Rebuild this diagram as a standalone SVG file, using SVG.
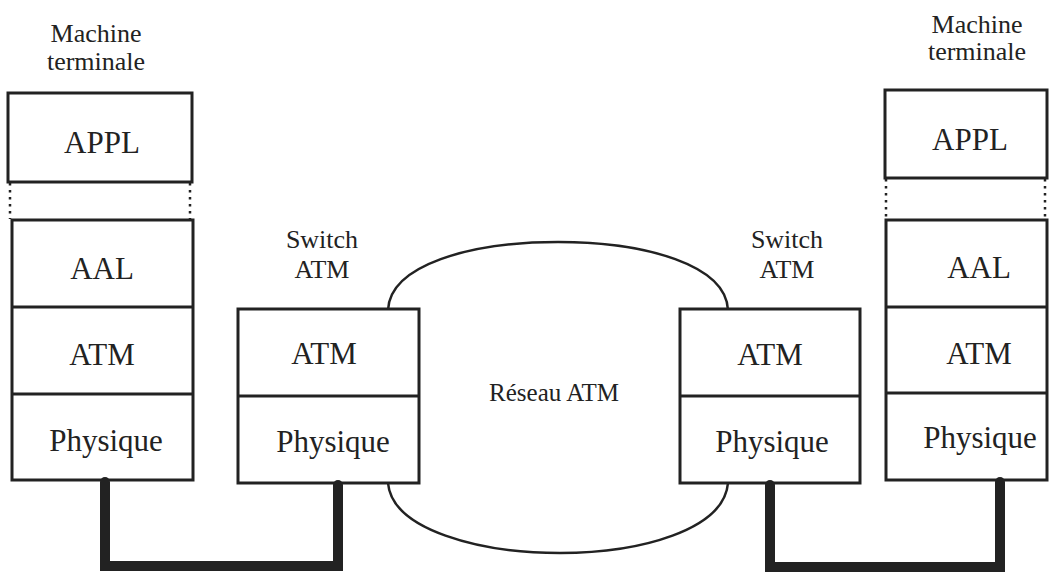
<svg xmlns="http://www.w3.org/2000/svg" width="1061" height="573" viewBox="0 0 1061 573">
<style>
.box{fill:#fff;stroke:#222;stroke-width:3}
.div{stroke:#222;stroke-width:3}
.dot{stroke:#222;stroke-width:2.5;stroke-dasharray:2.5 4.5}
text{font-family:'Liberation Serif','Times New Roman',serif;fill:#222;text-anchor:middle}
.lbl{font-size:31px}
.cap{font-size:26px}
.net{font-size:25px}
.cloud{fill:#fff;stroke:#222;stroke-width:2.5}
.wire{fill:none;stroke:#222;stroke-width:10;stroke-linejoin:miter;stroke-linecap:round}
</style>
<rect width="1061" height="573" fill="#fff"/>
<g id="reseau">
<path class="cloud" d="M388,310 C390,265 470,242 558,242 C646,242 726,265 728,310 L728,483 C724,530 640,553 560,553 C480,553 392,530 388,483 Z"/>
<text class="net" x="554" y="401">Réseau ATM</text>
</g>
<g id="machine-gauche">
<text class="cap" x="96" y="42">Machine</text>
<text class="cap" x="96" y="70">terminale</text>
<rect class="box" x="8" y="93" width="184" height="89"/>
<text class="lbl" x="102" y="153">APPL</text>
<line class="dot" x1="10" y1="183" x2="10" y2="219"/>
<line class="dot" x1="190" y1="183" x2="190" y2="219"/>
<rect class="box" x="12" y="220" width="181" height="260"/>
<line class="div" x1="12" y1="307" x2="193" y2="307"/>
<line class="div" x1="12" y1="394" x2="193" y2="394"/>
<text class="lbl" x="102" y="279">AAL</text>
<text class="lbl" x="102" y="365">ATM</text>
<text class="lbl" x="106" y="451">Physique</text>
</g>
<g id="switch-gauche">
<text class="cap" x="322" y="248">Switch</text>
<text class="cap" x="322" y="278">ATM</text>
<rect class="box" x="238" y="309" width="181" height="174"/>
<line class="div" x1="238" y1="396" x2="419" y2="396"/>
<text class="lbl" x="324" y="364">ATM</text>
<text class="lbl" x="333" y="452">Physique</text>
</g>
<g id="switch-droit">
<text class="cap" x="787" y="248">Switch</text>
<text class="cap" x="787" y="278">ATM</text>
<rect class="box" x="680" y="309" width="180" height="174"/>
<line class="div" x1="680" y1="396" x2="860" y2="396"/>
<text class="lbl" x="770" y="365">ATM</text>
<text class="lbl" x="772" y="452">Physique</text>
</g>
<g id="machine-droite">
<text class="cap" x="977" y="33">Machine</text>
<text class="cap" x="977" y="60">terminale</text>
<rect class="box" x="885" y="90" width="162" height="88"/>
<text class="lbl" x="970" y="150">APPL</text>
<line class="dot" x1="886" y1="179" x2="886" y2="219"/>
<line class="dot" x1="1045" y1="179" x2="1045" y2="219"/>
<rect class="box" x="886" y="220" width="161" height="260"/>
<line class="div" x1="886" y1="307" x2="1047" y2="307"/>
<line class="div" x1="886" y1="393" x2="1047" y2="393"/>
<text class="lbl" x="979" y="278">AAL</text>
<text class="lbl" x="979" y="364">ATM</text>
<text class="lbl" x="980" y="448">Physique</text>
</g>
<g id="connecteurs">
<path class="wire" d="M105,482 L105,566 L338,566 L338,485"/>
<path class="wire" d="M770,485 L770,567 L1000,567 L1000,482"/>
</g>
</svg>
